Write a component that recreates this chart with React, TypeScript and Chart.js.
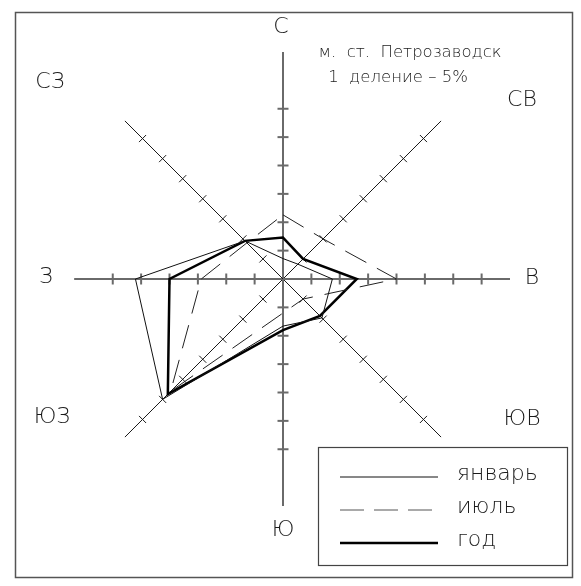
import React, { useEffect, useRef } from "react";
import { Chart, registerables } from "chart.js";

Chart.register(...registerables);

// Wind directions (clockwise from north)
const DIRECTIONS = ["С", "СВ", "В", "ЮВ", "Ю", "ЮЗ", "З", "СЗ"];
// Repeatability of wind directions, %
const JANUARY = [3.6, 3.7, 8.7, 9.7, 8.3, 30, 26, 9.5];
const JULY = [11.3, 10, 20, 5, 6, 28, 14.4, 9];
const YEAR = [7.3, 5, 13, 9.2, 9, 28.7, 20, 9.5];
// Scale: 1 division = 5 %
const DIVISION = 5;
const SCALE_MAX = 40;
// Number of division marks drawn on each axis and axis length (%)
const AXIS_TICKS = [6, 7, 7, 7, 6, 7, 6, 7];
const AXIS_LENGTH = [40, 39.4, 40, 39.4, 40, 39.4, 36.8, 39.4];
const SERIES_NAMES = ["январь", "июль", "год"];
const TITLE_LINES = ["м.  ст.  Петрозаводск", "1  деление – 5%"];

const FONT = "'DejaVu Sans', 'Liberation Sans', sans-serif";

const roseAxes = {
  id: "roseAxes",
  beforeDatasetsDraw(chart: any) {
    const ctx = chart.ctx;
    const scale = chart.scales.r;
    ctx.save();
    // frame
    ctx.strokeStyle = "#555";
    ctx.lineWidth = 1.5;
    ctx.strokeRect(15.5, 12.5, 557, 565);

    DIRECTIONS.forEach((_, i) => {
      const main = i % 2 === 0;
      const c = scale.getPointPosition(i, 0);
      const end = scale.getPointPosition(i, scale.getDistanceFromCenterForValue(AXIS_LENGTH[i]));
      ctx.strokeStyle = main ? "#6a6a6a" : "#1a1a1a";
      ctx.lineWidth = main ? 2 : 1;
      ctx.beginPath();
      ctx.moveTo(c.x, c.y);
      ctx.lineTo(end.x, end.y);
      ctx.stroke();
      const a = end.angle;
      const px = -Math.sin(a);
      const py = Math.cos(a);
      const half = main ? 5.5 : 5;
      for (let k = 1; k <= AXIS_TICKS[i]; k++) {
        const p = scale.getPointPosition(i, scale.getDistanceFromCenterForValue(k * DIVISION));
        ctx.beginPath();
        ctx.moveTo(p.x - px * half, p.y - py * half);
        ctx.lineTo(p.x + px * half, p.y + py * half);
        ctx.stroke();
      }
    });
    ctx.restore();
  },
  afterDraw(chart: any) {
    const ctx = chart.ctx;
    const scale = chart.scales.r;
    const cx = scale.xCenter;
    const cy = scale.yCenter;
    ctx.save();
    ctx.fillStyle = "#1a1a1a";
    ctx.textAlign = "center";
    ctx.textBaseline = "middle";
    ctx.font = `200 22px ${FONT}`;
    const labelOffsets = [
      [-2, -252], [239, -179], [249, -1], [239, 140],
      [0, 251], [-231, 138], [-237, -2], [-233, -197],
    ];
    DIRECTIONS.forEach((d, i) => {
      ctx.fillText(d, cx + labelOffsets[i][0], cy + labelOffsets[i][1]);
    });
    ctx.font = `200 16.5px ${FONT}`;
    ctx.fillText(TITLE_LINES[0], 410, 53);
    ctx.fillText(TITLE_LINES[1], 398, 78);

    // legend
    ctx.strokeStyle = "#444";
    ctx.lineWidth = 1.2;
    ctx.strokeRect(318.5, 447.5, 249, 118);
    const styles = [
      { w: 1, dash: [] as number[], color: "#111" },
      { w: 1, dash: [24, 10], color: "#555" },
      { w: 2.5, dash: [] as number[], color: "#000" },
    ];
    const ys = [477, 510, 543];
    ctx.textAlign = "left";
    ctx.font = `200 22px ${FONT}`;
    SERIES_NAMES.forEach((n, i) => {
      ctx.strokeStyle = styles[i].color;
      ctx.lineWidth = styles[i].w;
      ctx.setLineDash(styles[i].dash);
      ctx.beginPath();
      ctx.moveTo(340, ys[i]);
      ctx.lineTo(438, ys[i]);
      ctx.stroke();
      ctx.setLineDash([]);
      ctx.fillText(n, 457, ys[i] - 3);
    });
    ctx.restore();
  },
};

export default function App() {
  const ref = useRef<HTMLCanvasElement | null>(null);
  useEffect(() => {
    if (!ref.current) return;
    const chart = new Chart(ref.current, {
      type: "radar",
      data: {
        labels: DIRECTIONS,
        datasets: [
          { label: SERIES_NAMES[0], data: JANUARY, borderColor: "#111", borderWidth: 1, fill: false, pointRadius: 0 },
          { label: SERIES_NAMES[1], data: JULY, borderColor: "#222", borderWidth: 1, borderDash: [24, 12], fill: false, pointRadius: 0 },
          { label: SERIES_NAMES[2], data: YEAR, borderColor: "#000", borderWidth: 2.5, fill: false, pointRadius: 0 },
        ],
      },
      options: {
        animation: false,
        responsive: false,
        layout: { padding: { left: 56, right: 71, top: 52, bottom: 80 } },
        elements: { line: { tension: 0, borderJoinStyle: "miter" } },
        plugins: { legend: { display: false }, tooltip: { enabled: false }, title: { display: false } },
        scales: {
          r: {
            min: 0,
            max: SCALE_MAX,
            ticks: { display: false, stepSize: DIVISION },
            grid: { display: false },
            angleLines: { display: false },
            pointLabels: { display: false },
          },
        },
      },
      plugins: [roseAxes],
    });
    return () => chart.destroy();
  }, []);
  return (
    <div style={{ position: "fixed", left: 0, top: 0, width: 581, height: 586, background: "#fff" }}>
      <canvas ref={ref} width={581} height={586} />
    </div>
  );
}
